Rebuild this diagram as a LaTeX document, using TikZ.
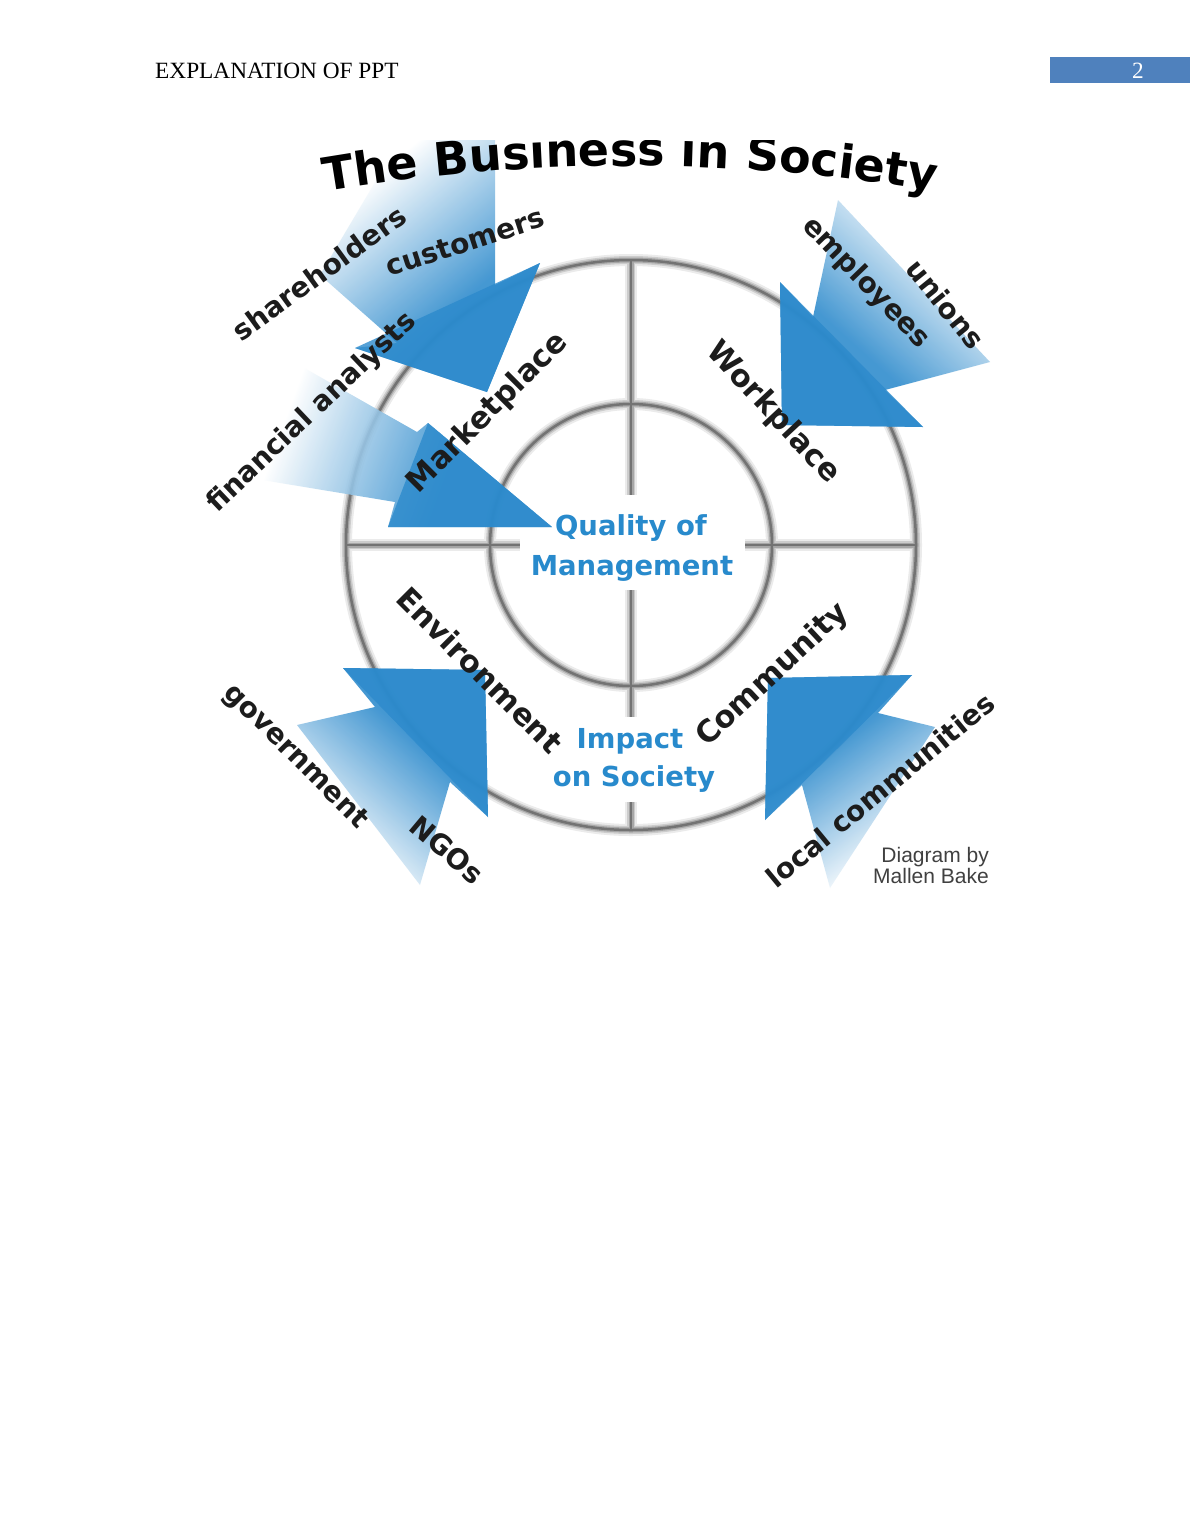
\documentclass[tikz,border=0pt]{standalone}
\usepackage{fontspec}
\setmainfont{Liberation Serif}
\newfontfamily\djfont{DejaVu Sans}
\newfontfamily\lsfont{Liberation Sans}
\usetikzlibrary{decorations.text}
\definecolor{abl}{RGB}{44,138,204}
\definecolor{qblue}{RGB}{40,138,204}
\definecolor{hdrblue}{RGB}{79,129,189}
\definecolor{lbl}{RGB}{28,28,28}
\pgfdeclareverticalshading{arrowfade}{100bp}{color(0bp)=(abl); color(40bp)=(abl); color(72bp)=(white); color(100bp)=(white)}
\newcommand\titlestyle{\djfont\bfseries\fontsize{46}{50}\selectfont}
\newcommand\ringset[1]{%
  \draw[#1] (631,545) circle[radius=285];
  \draw[#1] (631,545) circle[radius=141];
  \draw[#1] (345,545) -- (520,545);
  \draw[#1] (745,545) -- (916,545);
  \draw[#1] (631,260) -- (631,495);
  \draw[#1] (631,590) -- (631,717);
  \draw[#1] (631,802) -- (631,830);
}
\tikzset{
  hdr/.style={font=\fontsize{23.3}{28}\selectfont, inner sep=0pt},
  lbl/.style={font=\djfont\bfseries\fontsize{28}{30}\selectfont, text=lbl, inner sep=0pt},
  ringlbl/.style={font=\djfont\bfseries\fontsize{30.5}{32}\selectfont, text=lbl, inner sep=0pt},
  blu/.style={font=\djfont\bfseries\fontsize{27.5}{30}\selectfont, text=qblue, inner sep=0pt},
  credit/.style={font=\lsfont\fontsize{21}{24}\selectfont, text=black!75, inner sep=0pt},
  ringA/.style={line width=12, black!8},
  ringB/.style={line width=8, black!20},
  ringC/.style={line width=5, black!35},
  ringD/.style={line width=2.5, black!55},
  fan/.style={shading=arrowfade, fill opacity=0.88},
  head/.style={fill=abl, fill opacity=0.8}
}
\begin{document}
\begin{tikzpicture}[x=1pt,y=-1pt]
\useasboundingbox (0,0) rectangle (1190,1540);
\fill[white] (0,0) rectangle (1190,1540);
% header
\node[hdr, anchor=base west] (hdr) at (155,78) {EXPLANATION OF PPT};
\fill[hdrblue] (1050,57) rectangle (1190,83);
\node[hdr, text=white, anchor=base] (pg) at (1138,78) {2};
\begin{scope}
\clip (195,140) rectangle (1000,888);
% rings
\ringset{ringA}
\ringset{ringB}
\ringset{ringC}
\ringset{ringD}
% arrows
% customers / shareholders
\shade[fan, shading angle=40] (495,140) -- (495,285) -- (540,263) -- (487,392) -- (355,348) -- (397,343) -- (320,275) -- (400,140) -- cycle;
\fill[head] (540,263) -- (487,392) -- (355,348) -- cycle;
% financial analysts
\shade[fan, shading angle=70] (250,478) -- (395,502) -- (388,527) -- (552,527) -- (428,423) -- (417,432) -- (285,357) -- cycle;
\fill[head] (388,527) -- (552,527) -- (428,423) -- cycle;
% employees / unions
\shade[fan, shading angle=-42] (782,425) -- (780,282) -- (813,317) -- (838,200) -- (990,362) -- (885,390) -- (923,427) -- cycle;
\fill[head] (782,425) -- (780,282) -- (923,427) -- cycle;
% government / NGOs
\shade[fan, shading angle=138] (485,670) -- (343,668) -- (375,707) -- (297,725) -- (420,885) -- (450,782) -- (488,817) -- cycle;
\fill[head] (485,670) -- (343,668) -- (488,817) -- cycle;
% local communities
\shade[fan, shading angle=-144] (768,678) -- (912,675) -- (878,713) -- (935,727) -- (830,888) -- (802,785) -- (765,820) -- cycle;
\fill[head] (768,678) -- (912,675) -- (765,820) -- cycle;
% title
\path[decorate, decoration={text along path, text={|\titlestyle|The Business in Society}, text align=center}]
  (630,1996) ++(-101:1830) arc[start angle=-101, end angle=-79, radius=1830];
% stakeholder labels
\node[lbl, rotate=36] (sh) at (319,273) {shareholders};
\node[lbl, rotate=18] (cu) at (465,242) {customers};
\node[lbl, rotate=43.5] (fa) at (312,413) {financial analysts};
\node[lbl, rotate=-46] (em) at (866,283) {employees};
\node[lbl, rotate=-51] (un) at (946,304) {unions};
\node[lbl, rotate=-45] (go) at (295,757) {government};
\node[lbl, rotate=-40] (ng) at (447,850) {NGOs};
\node[lbl, rotate=39.5] (lc) at (880,790) {local communities};
% ring labels
\node[ringlbl, rotate=45] (mp) at (488,413) {Marketplace};
\node[ringlbl, rotate=-47] (wp) at (773,413) {Workplace};
\node[ringlbl, rotate=-45] (en) at (480,670) {Environment};
\node[ringlbl, rotate=43] (co) at (773,675) {Community};
% centre texts
\node[blu, anchor=base] (q1) at (631,535) {Quality of};
\node[blu, anchor=base] (q2) at (632,575) {Management};
\node[blu, anchor=base] (i1) at (630,748) {Impact};
\node[blu, anchor=base] (i2) at (634,786) {on Society};
% credit
\node[credit, anchor=base east] (c1) at (989,862) {Diagram by};
\node[credit, anchor=base east] (c2) at (989,883) {Mallen Bake};
\end{scope}
\end{tikzpicture}
\end{document}
